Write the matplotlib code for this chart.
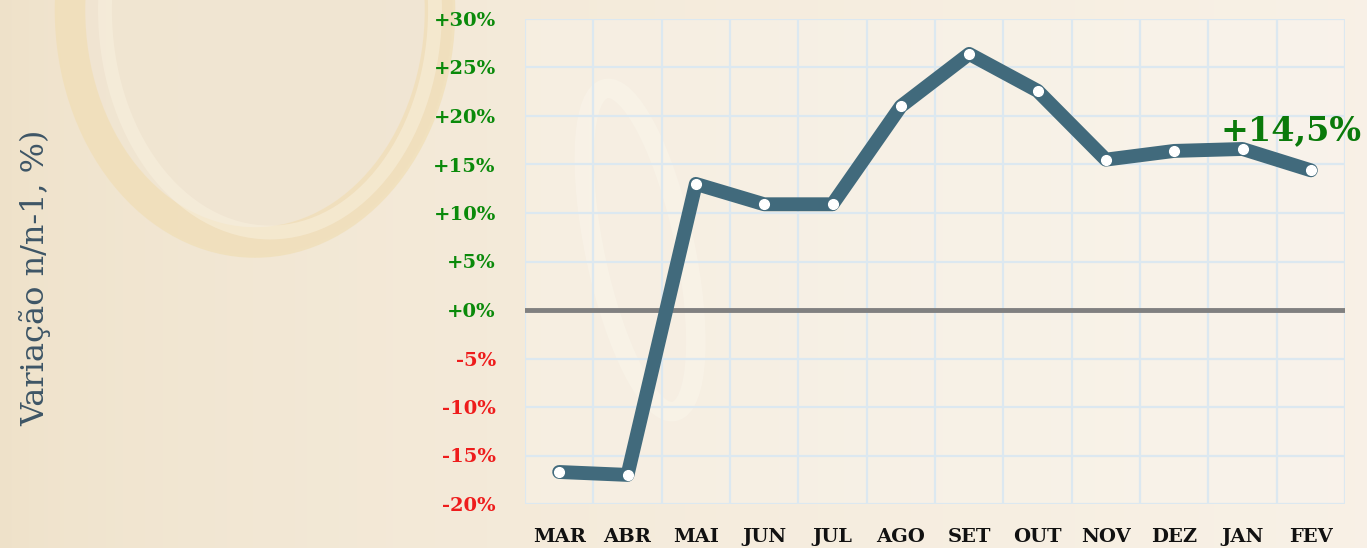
import matplotlib
matplotlib.use("Agg")
import matplotlib.pyplot as plt
import numpy as np
from matplotlib.patches import Ellipse

months = ["MAR", "ABR", "MAI", "JUN", "JUL", "AGO", "SET", "OUT", "NOV", "DEZ", "JAN", "FEV"]
values = [-16.7, -17.0, 13.0, 10.9, 10.9, 21.0, 26.4, 22.6, 15.5, 16.4, 16.6, 14.4]
yticks = [-20, -15, -10, -5, 0, 5, 10, 15, 20, 25, 30]
last_label = "+14,5%"

W, H = 1367, 548
fig = plt.figure(figsize=(W / 100, H / 100), dpi=100)
fig.patch.set_facecolor("#f6eedf")

# soft background: horizontal gradient + faint ring
bg = fig.add_axes([0, 0, 1, 1], zorder=-10)
bg.axis("off")
c0 = np.array([0.937, 0.886, 0.792])
c1 = np.array([0.973, 0.945, 0.902])
t = np.linspace(0, 1, 64)[None, :, None] ** 0.6
grad = c0 * (1 - t) + c1 * t
bg.imshow(grad, extent=[0, W, H, 0], aspect="auto", interpolation="bilinear", zorder=0)
bg.add_patch(Ellipse((255, 10), 395, 490, fill=True, ec="none", fc="#f0e5d2", alpha=0.8, zorder=1))
bg.add_patch(Ellipse((255, 10), 370, 465, fill=False, lw=22, ec="#f0ddb2", alpha=0.65, zorder=2))
bg.add_patch(Ellipse((270, 10), 330, 445, fill=False, lw=10, ec="#f9f1df", alpha=0.5, zorder=3))
bg.add_patch(Ellipse((640, 250), 90, 330, fill=False, lw=14, ec="#faf3e6", alpha=0.5, angle=-12, zorder=3))
bg.set_xlim(0, W); bg.set_ylim(H, 0)

ax = fig.add_axes([525 / W, (H - 504) / H, 820 / W, 485 / H])
ax.set_facecolor((1, 1, 1, 0.2))
x = np.arange(len(months))

ax.set_xlim(-0.5, len(months) - 0.5)
ax.set_ylim(-20, 30)

grid_c = "#dce8f0"
for xv in np.arange(-0.5, len(months), 1.0):
    ax.axvline(xv, color=grid_c, lw=1.6, zorder=1)
for yv in yticks:
    ax.axhline(yv, color=grid_c, lw=1.6, zorder=1)
for s in ax.spines.values():
    s.set_visible(False)

ax.axhline(0, color="#808080", lw=3.5, zorder=2)

ax.plot(x, values, color="#416a7c", lw=10, solid_capstyle="round",
        solid_joinstyle="round", zorder=3)
ax.plot(x, values, ls="none", marker="o", ms=7, mfc="white", mec="white", zorder=4)

ax.set_xticks(x)
ax.set_xticklabels(months, fontfamily="DejaVu Serif", fontweight="bold",
                   fontsize=14, color="#111111")
ax.set_yticks(yticks)
ylabels = [("+%d%%" % v) if v >= 0 else ("%d%%" % v) for v in yticks]
ax.set_yticklabels(ylabels, fontfamily="DejaVu Serif", fontweight="bold", fontsize=14)
for lab, v in zip(ax.get_yticklabels(), yticks):
    lab.set_color("#0a8a0a" if v >= 0 else "#ee1c1c")
ax.tick_params(axis="both", length=0)
ax.tick_params(axis="y", pad=21)
ax.tick_params(axis="x", pad=17)

ax.annotate(last_label, (x[-1], values[-1]), xytext=(-14, 17), textcoords="offset points",
            ha="center", va="bottom", fontfamily="DejaVu Serif", fontweight="bold",
            fontsize=24, color="#0a7a0a", zorder=5)

fig.text(35 / W, 1 - 278 / H, "Variação n/n-1, %)", rotation=90, ha="center", va="center",
         fontfamily="DejaVu Serif", fontsize=23, color="#3d5566")

fig.savefig("out.png", dpi=100, facecolor=fig.get_facecolor())
